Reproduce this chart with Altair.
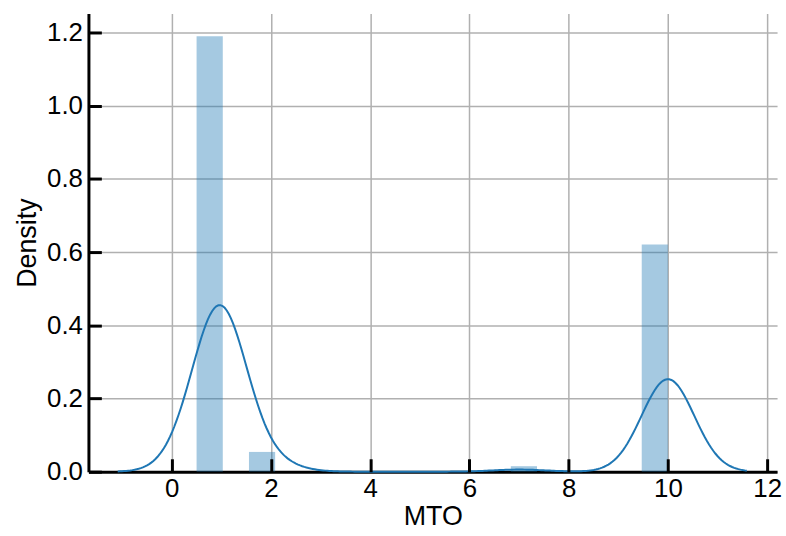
import altair as alt
import pandas as pd

# Histogram bins (density-normalised) for MTO
bin_start = [0.5, 1.5556, 6.8333, 9.4722]
bin_end = [1.0278, 2.0833, 7.3611, 10.0]
bar_density = [1.19, 0.054, 0.015, 0.621]

# Observations used for the kernel density curve
sample_values = [0.5, 1.0, 2.0, 7.0, 10.0]
sample_counts = [10, 72, 4, 1, 44]
kde_bandwidth = 0.53
kde_extent = [-1.09, 11.59]

x_ticks = [0, 2, 4, 6, 8, 10, 12]
y_ticks = [0.0, 0.2, 0.4, 0.6, 0.8, 1.0, 1.2]

bars_df = pd.DataFrame({"start": bin_start, "end": bin_end, "density": bar_density})
sample_df = pd.DataFrame(
    {"MTO": [v for v, c in zip(sample_values, sample_counts) for _ in range(c)]}
)

FONT = "Liberation Sans"
BLUE = "#1f77b4"

x_scale = alt.Scale(domain=[-1.68, 12.2], nice=False, zero=False)
y_scale = alt.Scale(domain=[0, 1.252], nice=False, zero=False)

common = dict(
    grid=True,
    gridColor="#b0b0b0",
    gridWidth=1.5,
    ticks=False,
    domainColor="black",
    domainWidth=3,
    labelFont=FONT,
    labelFontSize=26,
    labelColor="black",
    titleFont=FONT,
    titleFontSize=27,
    titleFontWeight="normal",
    titleColor="black",
)

x_axis = alt.Axis(values=x_ticks, format="d", title="MTO",
                  labelPadding=4, titlePadding=2, **common)
y_axis = alt.Axis(values=y_ticks, format=".1f", title="Density",
                  labelPadding=6, titlePadding=5, **common)

# Tick-only axes shifted inside the plot so the ticks point inward
tick_style = dict(labels=False, domain=False, grid=False, ticks=True,
                  tickSize=13, tickWidth=3, tickColor="black",
                  offset=-13, zindex=1, title=None)
x_tick_axis = alt.Axis(orient="bottom", values=x_ticks, **tick_style)
y_tick_axis = alt.Axis(orient="left", values=y_ticks, **tick_style)

bars = alt.Chart(bars_df).mark_rect(color=BLUE, opacity=0.4).encode(
    x=alt.X("start:Q", scale=x_scale, axis=x_axis),
    x2="end:Q",
    y=alt.Y("density:Q", scale=y_scale, axis=y_axis),
    y2=alt.datum(0),
)

kde = alt.Chart(sample_df).transform_density(
    "MTO", as_=["MTO", "density"], bandwidth=kde_bandwidth,
    extent=kde_extent, steps=300,
).mark_line(color=BLUE, strokeWidth=2).encode(
    x=alt.X("MTO:Q", scale=x_scale, axis=x_tick_axis),
    y=alt.Y("density:Q", scale=y_scale, axis=y_tick_axis),
)

chart = alt.layer(bars, kde).resolve_axis(
    x="independent", y="independent"
).properties(
    width=693,
    height=461,
    padding={"left": 13, "top": 12, "right": 4, "bottom": 0},
    background="white",
).configure_view(stroke=None)

chart.save("out.html", embed_options={"renderer": "svg", "actions": False})
